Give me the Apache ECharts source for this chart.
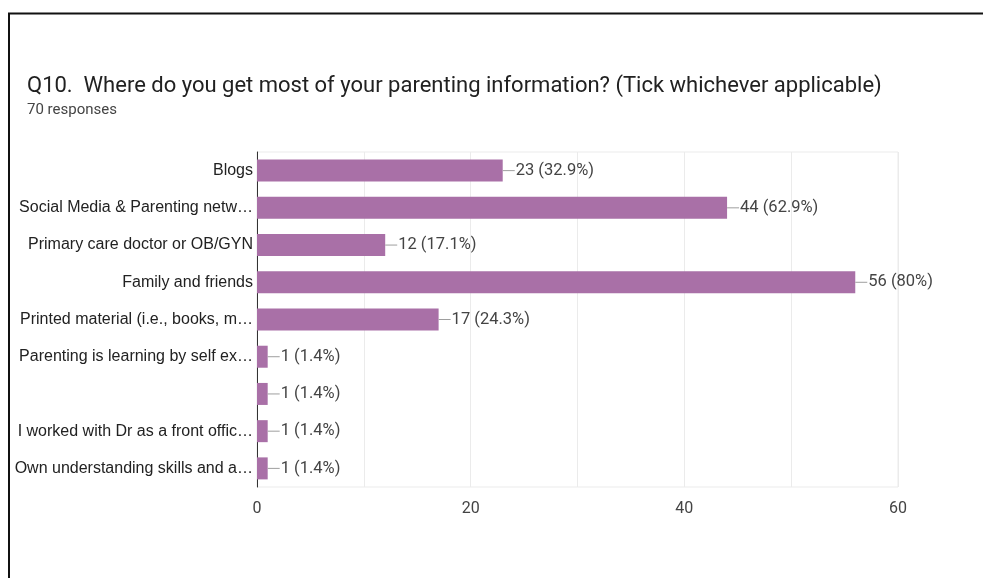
<!DOCTYPE html>
<html>
<head>
<meta charset="utf-8">
<script src="https://cdn.jsdelivr.net/npm/echarts@6/dist/echarts.min.js"></script>
<style>
  html, body { margin: 0; padding: 0; background: #fff; }
  #chart { width: 983px; height: 578px; }
</style>
</head>
<body>
<div id="chart"></div>
<script>
// Survey answers for Q10, top to bottom
const categories = [
  'Blogs',
  'Social Media & Parenting netw\u2026',
  'Primary care doctor or OB/GYN',
  'Family and friends',
  'Printed material (i.e., books, m\u2026',
  'Parenting is learning by self ex\u2026',
  '',
  'I worked with Dr as a front offic\u2026',
  'Own understanding skills and a\u2026'
];
const counts = [23, 44, 12, 56, 17, 1, 1, 1, 1];
const percents = ['32.9%', '62.9%', '17.1%', '80%', '24.3%', '1.4%', '1.4%', '1.4%', '1.4%'];
const xTicks = [0, 20, 40, 60];

const titleText = 'Q10.  Where do you get most of your parenting information? (Tick whichever applicable)';
const subtitleText = '70 responses';

const chart = echarts.init(document.getElementById('chart'), null, { renderer: 'canvas' });

chart.setOption({
  animation: false,
  backgroundColor: '#ffffff',
  title: {
    text: titleText,
    subtext: subtitleText,
    left: 22,
    top: 70,
    itemGap: 6,
    textStyle: { fontFamily: 'Roboto', fontSize: 22, fontWeight: 'normal', color: '#212121' },
    subtextStyle: { fontFamily: 'Roboto', fontSize: 15, color: '#444444' }
  },
  graphic: [{
    type: 'polyline',
    shape: { points: [[9, 578], [9, 13.5], [983, 13.5]] },
    style: { stroke: '#111111', lineWidth: 2, fill: null },
    silent: true
  }],
  grid: {
    left: 257, right: 85, top: 152, bottom: 91,
    show: true, borderColor: '#ebebeb', borderWidth: 1
  },
  xAxis: {
    type: 'value',
    min: 0, max: 60, interval: 10,
    axisLine: { show: false },
    axisTick: { show: false },
    splitLine: { show: true, lineStyle: { color: '#ebebeb', width: 1 } },
    axisLabel: {
      margin: 14,
      fontFamily: 'Roboto', fontSize: 16, color: '#444444',
      formatter: v => (xTicks.indexOf(v) >= 0 ? String(v) : '')
    }
  },
  yAxis: {
    type: 'category',
    data: categories,
    inverse: true,
    axisLine: { show: true, lineStyle: { color: '#333333', width: 1 } },
    axisTick: { show: false },
    axisLabel: {
      margin: 4,
      fontFamily: 'Liberation Sans', fontSize: 16, color: '#222222'
    }
  },
  series: [{
    type: 'bar',
    data: counts,
    barWidth: 22,
    itemStyle: { color: '#a970a7' },
    label: {
      show: true,
      position: 'right',
      distance: 0,
      formatter: p => '{l|}{v|' + p.value + ' (' + percents[p.dataIndex] + ')}',
      rich: {
        l: { width: 12, height: 1, backgroundColor: '#9e9e9e' },
        v: { fontFamily: 'Roboto', fontSize: 16.5, color: '#444444', padding: [0, 0, 0, 1] }
      }
    }
  }]
});
</script>
</body>
</html>
